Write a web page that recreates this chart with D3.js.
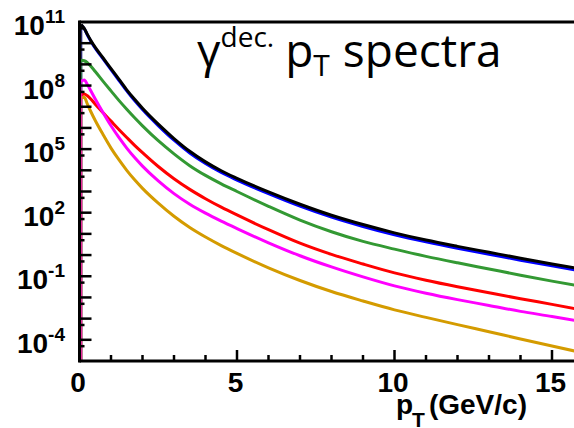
<!DOCTYPE html>
<html><head><meta charset="utf-8">
<script src="https://cdn.jsdelivr.net/npm/d3@7"></script>
<style>body{margin:0;background:#fff}svg{display:block}</style>
</head><body>
<svg id="chart" width="574" height="428"></svg>
<script>
// pT bin positions (GeV/c)
const pT = [0.05,0.15,0.25,0.35,0.5,0.75,1,1.25,1.5,1.75,2,2.5,3,3.5,4,4.5,5,6,7,8,9,10,11,12,13,14,15,16];
// decay-photon yields per series
const blackVals = [7.6e10,5.0e10,2.6e10,1.41e10,6.3e9,2.0e9,6.3e8,2.0e8,6.3e7,2.24e7,8.5e6,1.51e6,3.16e5,7.9e4,2.5e4,9.5e3,4.2e3,955,251,76,27.5,11.2,5.1,2.57,1.35,0.71,0.38,0.21];
const blueVals  = [7.2e10,4.8e10,2.45e10,1.32e10,5.75e9,1.82e9,5.6e8,1.78e8,5.6e7,1.95e7,7.4e6,1.29e6,2.63e5,6.6e4,2.1e4,7.9e3,3.47e3,794,204,62,22.4,9.1,4.2,2.09,1.1,0.575,0.31,0.17];
const greenVals = [1.58e9,1.48e9,1.2e9,8.5e8,4.6e8,1.58e8,5.6e7,2.0e7,7.6e6,3.0e6,1.26e6,2.5e5,6.0e4,1.66e4,5.75e3,2.3e3,1.0e3,200,44.7,12.6,4.4,1.9,0.87,0.43,0.22,0.112,0.059,0.032];
const redVals   = [3.5e7,4.0e7,3.3e7,2.4e7,1.32e7,5.2e6,2.1e6,8.5e5,3.55e5,1.51e5,6.8e4,1.51e4,4.0e3,1.26e3,457,182,78,15.8,3.63,1.07,0.38,0.145,0.065,0.032,0.0166,0.0087,0.0047,0.0025];
const magentaVals = [1.58e8,1.82e8,1.12e8,6.0e7,2.34e7,5.2e6,1.26e6,3.55e5,1.12e5,4.0e4,1.58e4,3.16e3,794,251,95,40,17.8,3.8,0.93,0.275,0.093,0.035,0.0158,0.0079,0.0042,0.0022,0.00126,0.0007];
const goldVals  = [2.6e7,2.8e7,1.32e7,6.3e6,2.24e6,4.8e5,1.12e5,3.16e4,1.0e4,3.55e3,1.41e3,282,67.6,20,7.1,2.8,1.2,0.25,0.063,0.019,0.0068,0.0026,0.00115,5.2e-4,2.4e-4,1.1e-4,5.1e-5,2.4e-5];
const seriesNames = ["blue","black","green","red","gold","magenta"];
const seriesColors = ["#0000ff","#000000","#339933","#ff0000","#d49b00","#ff00ff"];
const seriesData = [blueVals,blackVals,greenVals,redVals,goldVals,magentaVals];
// axis ticks
const xMajorTicks = [0,5,10,15];
const xMinorTicks = [1,2,3,4,6,7,8,9,11,12,13,14,16];
const yLabelExps = [11,8,5,2,-1,-4];
const yDecades = d3.range(-5,12);
const xTitle = ["p","T","(GeV/c)"];
const chartTitle = ["\u03b3","dec.","p","T","spectra"];

const svg = d3.select("#chart");
const L = 79.5, T = 22, B = 361;
const x = d3.scaleLinear().domain([0,16]).range([L, L + 16*31.5]);
const y = d3.scaleLog().domain([1e-5,1e11]).range([B, T]);

svg.append("defs").append("clipPath").attr("id","clip")
  .append("rect").attr("x",L).attr("y",T).attr("width",600).attr("height",B-T);

const plot = svg.append("g").attr("clip-path","url(#clip)");
const line = d3.line().x(d=>x(d[0])).y(d=>y(d[1])).curve(d3.curveMonotoneX);

seriesData.forEach((vals,i)=>{
  plot.append("line")
    .attr("x1",x(0)+2).attr("x2",x(0)+2)
    .attr("y1",B).attr("y2",y(vals[0]))
    .attr("stroke",seriesColors[i]).attr("stroke-width",1.5).attr("stroke-opacity",0.6);
  plot.append("path")
    .datum(pT.map((p,j)=>[p,vals[j]]))
    .attr("d",line)
    .attr("fill","none")
    .attr("stroke",seriesColors[i])
    .attr("stroke-width",3)
    .attr("stroke-linejoin","round");
});

// frame
const ax = svg.append("g").attr("stroke","#000");
ax.append("line").attr("x1",L).attr("x2",574).attr("y1",T).attr("y2",T).attr("stroke-width",3);
ax.append("line").attr("x1",L).attr("x2",574).attr("y1",B).attr("y2",B).attr("stroke-width",3);
ax.append("line").attr("x1",L).attr("x2",L).attr("y1",T-1.5).attr("y2",B+1.5).attr("stroke-width",3);

// y ticks
yDecades.forEach(e=>{
  const v = Math.pow(10,e);
  if (e>-5 && e<11) ax.append("line").attr("x1",L).attr("x2",L+12).attr("y1",y(v)).attr("y2",y(v)).attr("stroke-width",2.5);
  const m = 5*Math.pow(10,e-1);
  if (m>1e-5 && m<1e11) ax.append("line").attr("x1",L).attr("x2",L+5).attr("y1",y(m)).attr("y2",y(m)).attr("stroke-width",2.5);
});
// x ticks
xMajorTicks.forEach(v=>{
  ax.append("line").attr("x1",x(v)).attr("x2",x(v)).attr("y1",B).attr("y2",B-11).attr("stroke-width",2.5);
});
xMinorTicks.forEach(v=>{
  ax.append("line").attr("x1",x(v)).attr("x2",x(v)).attr("y1",B).attr("y2",B-6).attr("stroke-width",2.5);
});

const font = "'Liberation Sans', Arial, sans-serif";
// y labels
yLabelExps.forEach(e=>{
  const t = svg.append("text").attr("x",65).attr("y",y(Math.pow(10,e))+13)
    .attr("text-anchor","end").attr("font-family",font).attr("font-weight","bold").attr("fill","#000");
  t.append("tspan").attr("font-size",28).text("10");
  t.append("tspan").attr("font-size",19).attr("dy",-12).text(String(e));
});
// x labels
xMajorTicks.forEach(v=>{
  svg.append("text").attr("x",x(v)-1.5).attr("y",392).attr("text-anchor","middle")
    .attr("font-family",font).attr("font-weight","bold").attr("font-size",28).text(String(v));
});
// x title
const xt = svg.append("text").attr("x",396).attr("y",414).attr("font-family",font).attr("font-weight","bold").attr("font-size",28);
xt.append("tspan").text(xTitle[0]);
xt.append("tspan").attr("font-size",21).attr("dy",13).attr("dx",-1).text(xTitle[1]);
xt.append("tspan").attr("dy",-13).attr("dx",4).text(xTitle[2]);

// chart title
const tf = "'Open Sans', 'Noto Sans', sans-serif";
const ct = svg.append("text").attr("x",197).attr("y",67).attr("font-family",tf).attr("font-size",46).attr("fill","#000");
ct.append("tspan").text(chartTitle[0]);
ct.append("tspan").attr("font-size",28).attr("dy",-20).text(chartTitle[1]);
ct.append("tspan").attr("dy",20).attr("dx",11).text(chartTitle[2]);
ct.append("tspan").attr("font-size",30).attr("dy",9).text(chartTitle[3]);
ct.append("tspan").attr("dy",-9).attr("dx",13).text(chartTitle[4]);
</script>
</body></html>
